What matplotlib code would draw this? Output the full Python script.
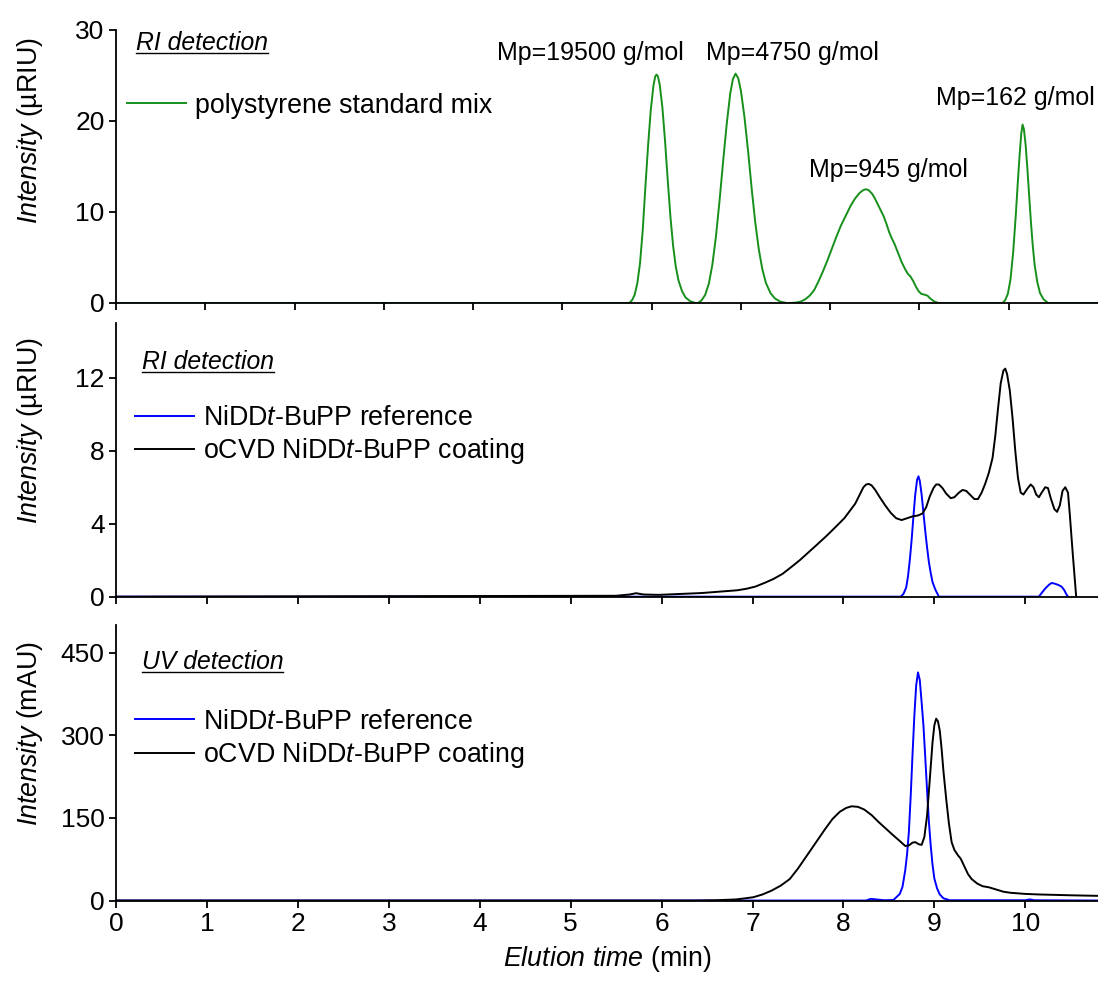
import matplotlib
matplotlib.use("Agg")
import matplotlib.pyplot as plt
from matplotlib.lines import Line2D

plt.rcParams['font.family'] = ['Liberation Sans', 'DejaVu Sans']
plt.rcParams['mathtext.fontset'] = 'custom'
plt.rcParams['mathtext.rm'] = 'Liberation Sans'
plt.rcParams['mathtext.it'] = 'Liberation Sans:italic'

# --- top panel: polystyrene standard mix (RI), time in min, intensity in uRIU
ps_t = [0.0, 5.75, 5.78, 5.81, 5.84, 5.87, 5.90, 5.93, 5.96, 5.99, 6.02, 6.04, 6.055, 6.07, 6.09, 6.12,
        6.15, 6.18, 6.21, 6.24, 6.27, 6.30, 6.34, 6.38, 6.43, 6.49,
        6.52, 6.56, 6.60, 6.64, 6.68, 6.72, 6.76, 6.80, 6.84, 6.88, 6.91, 6.94, 6.97, 7.00, 7.04,
        7.08, 7.12, 7.16, 7.20, 7.24, 7.28, 7.33, 7.38, 7.44, 7.51,
        7.56, 7.62, 7.67, 7.72, 7.77, 7.82, 7.87, 7.92, 7.97, 8.02, 8.07, 8.12, 8.18, 8.23, 8.28, 8.33,
        8.37, 8.40, 8.43, 8.47, 8.50, 8.54, 8.58, 8.60, 8.63, 8.66, 8.69, 8.72, 8.76, 8.80, 8.84, 8.87,
        8.90, 8.93, 8.96, 8.99, 9.02, 9.06, 9.09, 9.12, 9.16, 9.21,
        9.93, 9.96, 9.99, 10.02, 10.05, 10.08, 10.10, 10.12, 10.14, 10.155, 10.17, 10.19, 10.21, 10.23,
        10.25, 10.27, 10.29, 10.32, 10.35, 10.39, 10.44, 11.0]
ps_i = [0.0, 0.0, 0.3, 0.9, 2.2, 4.4, 8.0, 12.8, 17.3, 21.2, 23.9, 24.9, 25.1, 24.9, 24.0, 21.5,
        17.8, 13.5, 9.5, 6.3, 4.0, 2.5, 1.3, 0.6, 0.2, 0.0,
        0.0, 0.3, 0.9, 2.1, 4.2, 7.3, 11.2, 15.5, 19.6, 23.0, 24.6, 25.2, 24.7, 23.3, 20.4,
        16.7, 12.6, 8.9, 5.9, 3.7, 2.2, 1.1, 0.5, 0.15, 0.0,
        0.0, 0.05, 0.15, 0.4, 0.8, 1.4, 2.4, 3.5, 4.7, 6.0, 7.3, 8.5, 9.7, 10.7, 11.5, 12.1,
        12.4, 12.5, 12.4, 12.0, 11.5, 10.7, 9.9, 9.5, 8.7, 7.8, 7.1, 6.5, 5.5, 4.5, 3.7, 3.2,
        2.9, 2.4, 1.8, 1.3, 1.0, 0.9, 0.8, 0.5, 0.2, 0.0,
        0.0, 0.3, 1.0, 2.6, 5.6, 9.8, 13.0, 16.0, 18.6, 19.6, 19.1, 17.3, 14.6, 11.6,
        8.7, 6.2, 4.2, 2.3, 1.1, 0.4, 0.0, 0.0]
ps_labels = ['Mp=19500 g/mol', 'Mp=4750 g/mol', 'Mp=945 g/mol', 'Mp=162 g/mol']
ps_label_t = [5.31, 7.58, 8.65, 10.07]
ps_label_i = [27.5, 27.5, 14.6, 22.5]

# --- middle panel: RI detection
ri_ref_t = [0.0, 8.63, 8.66, 8.69, 8.71, 8.73, 8.75, 8.77, 8.79, 8.81, 8.825, 8.84, 8.86, 8.88, 8.90,
            8.92, 8.94, 8.96, 8.98, 9.01, 9.05,
            10.15, 10.18, 10.22, 10.26, 10.29, 10.32, 10.36, 10.40, 10.43, 10.45, 10.47]
ri_ref_i = [0.0, 0.0, 0.15, 0.5, 1.1, 2.0, 3.1, 4.4, 5.6, 6.4, 6.6, 6.35, 5.6, 4.6, 3.6,
            2.7, 1.9, 1.3, 0.8, 0.4, 0.0,
            0.0, 0.2, 0.45, 0.65, 0.75, 0.72, 0.65, 0.55, 0.35, 0.15, 0.0]
ri_coat_t = [0.0, 5.5, 5.65, 5.72, 5.80, 5.97, 6.44, 6.83, 6.93, 7.03, 7.13, 7.23, 7.33, 7.42, 7.52,
             7.62, 7.72, 7.82, 7.92, 8.01, 8.07, 8.13, 8.18, 8.22, 8.25, 8.28, 8.31, 8.35, 8.40, 8.46,
             8.52, 8.58, 8.64, 8.70, 8.76, 8.82, 8.87, 8.91, 8.95, 8.99, 9.02, 9.05, 9.09, 9.13, 9.18,
             9.22, 9.27, 9.31, 9.35, 9.40, 9.44, 9.48, 9.52, 9.56, 9.60, 9.64, 9.67, 9.70, 9.73, 9.76,
             9.78, 9.80, 9.83, 9.86, 9.89, 9.92, 9.95, 9.98, 10.02, 10.06, 10.09, 10.12, 10.15, 10.18,
             10.22, 10.25, 10.28, 10.32, 10.35, 10.38, 10.41, 10.44, 10.47, 10.49, 10.52, 10.56]
ri_coat_i = [0.0, 0.05, 0.12, 0.19, 0.12, 0.1, 0.2, 0.35, 0.43, 0.55, 0.75, 0.97, 1.25, 1.6, 2.0,
             2.45, 2.9, 3.36, 3.85, 4.3, 4.7, 5.1, 5.6, 6.0, 6.15, 6.18, 6.1, 5.85, 5.45, 5.0,
             4.6, 4.3, 4.2, 4.3, 4.4, 4.45, 4.56, 4.9, 5.5, 5.95, 6.15, 6.15, 5.95, 5.65, 5.4,
             5.45, 5.7, 5.85, 5.8, 5.55, 5.35, 5.35, 5.7, 6.2, 6.8, 7.6, 8.8, 10.3, 11.7, 12.4,
             12.5, 12.2, 11.3, 9.8, 8.0, 6.5, 5.7, 5.6, 5.9, 6.15, 6.0, 5.6, 5.45, 5.7,
             6.0, 5.95, 5.4, 4.8, 4.65, 5.0, 5.8, 6.0, 5.7, 4.5, 2.5, 0.0]

# --- bottom panel: UV detection, mAU
uv_ref_t = [0.0, 8.25, 8.30, 8.36, 8.45, 8.55, 8.62, 8.65, 8.68, 8.70, 8.72, 8.74, 8.76, 8.78, 8.80,
            8.82, 8.84, 8.86, 8.88, 8.90, 8.92, 8.94, 8.96, 8.98, 9.00, 9.03, 9.06, 9.10, 9.17,
            10.0, 10.05, 10.1, 10.8]
uv_ref_i = [0.0, 0.0, 3.0, 2.0, 0.5, 1.0, 12.0, 25.0, 55.0, 84.0, 125.0, 190.0, 265.0, 335.0, 390.0,
            414.0, 400.0, 360.0, 318.0, 260.0, 200.0, 143.0, 100.0, 65.0, 40.0, 22.0, 11.0, 4.0, 0.5,
            0.5, 2.0, 0.5, 0.0]
uv_coat_t = [0.0, 6.35, 6.6, 6.82, 6.92, 7.01, 7.11, 7.21, 7.31, 7.41, 7.50, 7.60, 7.70, 7.80, 7.88,
             7.96, 8.03, 8.09, 8.16, 8.23, 8.31, 8.39, 8.47, 8.55, 8.62, 8.68, 8.72, 8.76, 8.79, 8.83,
             8.86, 8.89, 8.92, 8.95, 8.98, 9.00, 9.02, 9.04, 9.06, 9.08, 9.10, 9.13, 9.16, 9.19, 9.22,
             9.26, 9.29, 9.33, 9.37, 9.41, 9.47, 9.53, 9.60, 9.68, 9.76, 9.84, 10.0, 10.15, 10.5, 10.8]
uv_coat_i = [0.0, 0.0, 0.5, 2.0, 4.0, 6.0, 11.0, 18.0, 27.0, 39.0, 58.0, 82.0, 106.0, 130.0, 148.0,
             161.0, 168.0, 171.0, 170.0, 165.0, 155.0, 142.0, 130.0, 118.0, 108.0, 99.0, 100.0, 105.0, 106.0, 102.0,
             101.0, 115.0, 154.0, 220.0, 287.0, 318.0, 330.0, 325.0, 308.0, 275.0, 235.0, 185.0, 140.0, 106.0, 92.0,
             82.0, 76.0, 62.0, 48.0, 39.0, 31.0, 26.0, 24.0, 20.0, 16.0, 14.0, 12.0, 11.0, 9.5, 8.5]

green = '#16901a'
blue = '#0000ff'
lw = 1.4
fs_tick = 19
fs_lab = 19.3
fs_leg = 19.3
fs_note = 18
fs_det = 17.8

fig = plt.figure(figsize=(10.98, 9.83), dpi=100)
L, W = 0.1057, 1 - 0.1057
ax1 = fig.add_axes([L, 0.6918, W, 0.2777])
ax2 = fig.add_axes([L, 0.3930, W, 0.2784])
ax3 = fig.add_axes([L, 0.0839, W, 0.2803])

for ax in (ax1, ax2, ax3):
    ax.spines['top'].set_visible(False)
    ax.spines['right'].set_visible(False)
    ax.spines['left'].set_linewidth(1.3)
    ax.spines['bottom'].set_linewidth(1.3)
    ax.tick_params(direction='out', length=5.2, width=1.3, labelsize=fs_tick, pad=3)
    ax.set_xticks(range(0, 11))

ax1.plot(ps_t, ps_i, color=green, lw=lw, label='polystyrene standard mix')
ax1.set_xlim(0, 11.0)
ax1.set_ylim(0, 30)
ax1.set_yticks([0, 10, 20, 30])
ax1.tick_params(axis='x', labelbottom=False)
for txt, t, v in zip(ps_labels, ps_label_t, ps_label_i):
    ax1.text(t, v, txt, fontsize=fs_note, ha='center', va='center')

ax2.plot(ri_ref_t, ri_ref_i, color=blue, lw=lw, label='NiDD$\\it{t}$-BuPP reference')
ax2.plot(ri_coat_t, ri_coat_i, color='black', lw=lw, label='oCVD NiDD$\\it{t}$-BuPP coating')
ax2.set_xlim(0, 10.8)
ax2.set_ylim(0, 15)
ax2.set_yticks([0, 4, 8, 12])
ax2.tick_params(axis='x', labelbottom=False)

ax3.plot(uv_ref_t, uv_ref_i, color=blue, lw=lw, label='NiDD$\\it{t}$-BuPP reference')
ax3.plot(uv_coat_t, uv_coat_i, color='black', lw=lw, label='oCVD NiDD$\\it{t}$-BuPP coating')
ax3.set_xlim(0, 10.8)
ax3.set_ylim(0, 500)
ax3.set_yticks([0, 150, 300, 450])
ax3.set_xlabel('$\\it{Elution\\ time}$ (min)', fontsize=fs_lab, labelpad=6)

ax1.set_ylabel('$\\it{Intensity}$ (µRIU)', fontsize=fs_lab)
ax2.set_ylabel('$\\it{Intensity}$ (µRIU)', fontsize=fs_lab)
ax3.set_ylabel('$\\it{Intensity}$ (mAU)', fontsize=fs_lab)
ax1.yaxis.set_label_coords(-0.072, 0.63)
ax2.yaxis.set_label_coords(-0.072, 0.606)
ax3.yaxis.set_label_coords(-0.072, 0.604)

titles = []
titles.append(ax1.text(0.02, 0.995, 'RI detection', transform=ax1.transAxes, style='italic',
                       fontsize=fs_det, ha='left', va='top'))
titles.append(ax2.text(0.026, 0.90, 'RI detection', transform=ax2.transAxes, style='italic',
                       fontsize=fs_det, ha='left', va='top'))
titles.append(ax3.text(0.026, 0.91, 'UV detection', transform=ax3.transAxes, style='italic',
                       fontsize=fs_det, ha='left', va='top'))

leg_kw = dict(frameon=False, fontsize=fs_leg, handlelength=2.2, handletextpad=0.35,
              borderaxespad=0, labelspacing=0.2, loc='upper left')
ax1.legend(bbox_to_anchor=(0.0, 0.81), **leg_kw)
ax2.legend(bbox_to_anchor=(0.008, 0.74), **leg_kw)
ax3.legend(bbox_to_anchor=(0.008, 0.735), **leg_kw)

# underline the detection labels
fig.canvas.draw()
inv = fig.transFigure.inverted()
for t in titles:
    bb = t.get_window_extent().transformed(inv)
    fig.add_artist(Line2D([bb.x0, bb.x1], [bb.y0 + 0.002, bb.y0 + 0.002], color='black', lw=1.0))

fig.savefig('out.png', dpi=100)
